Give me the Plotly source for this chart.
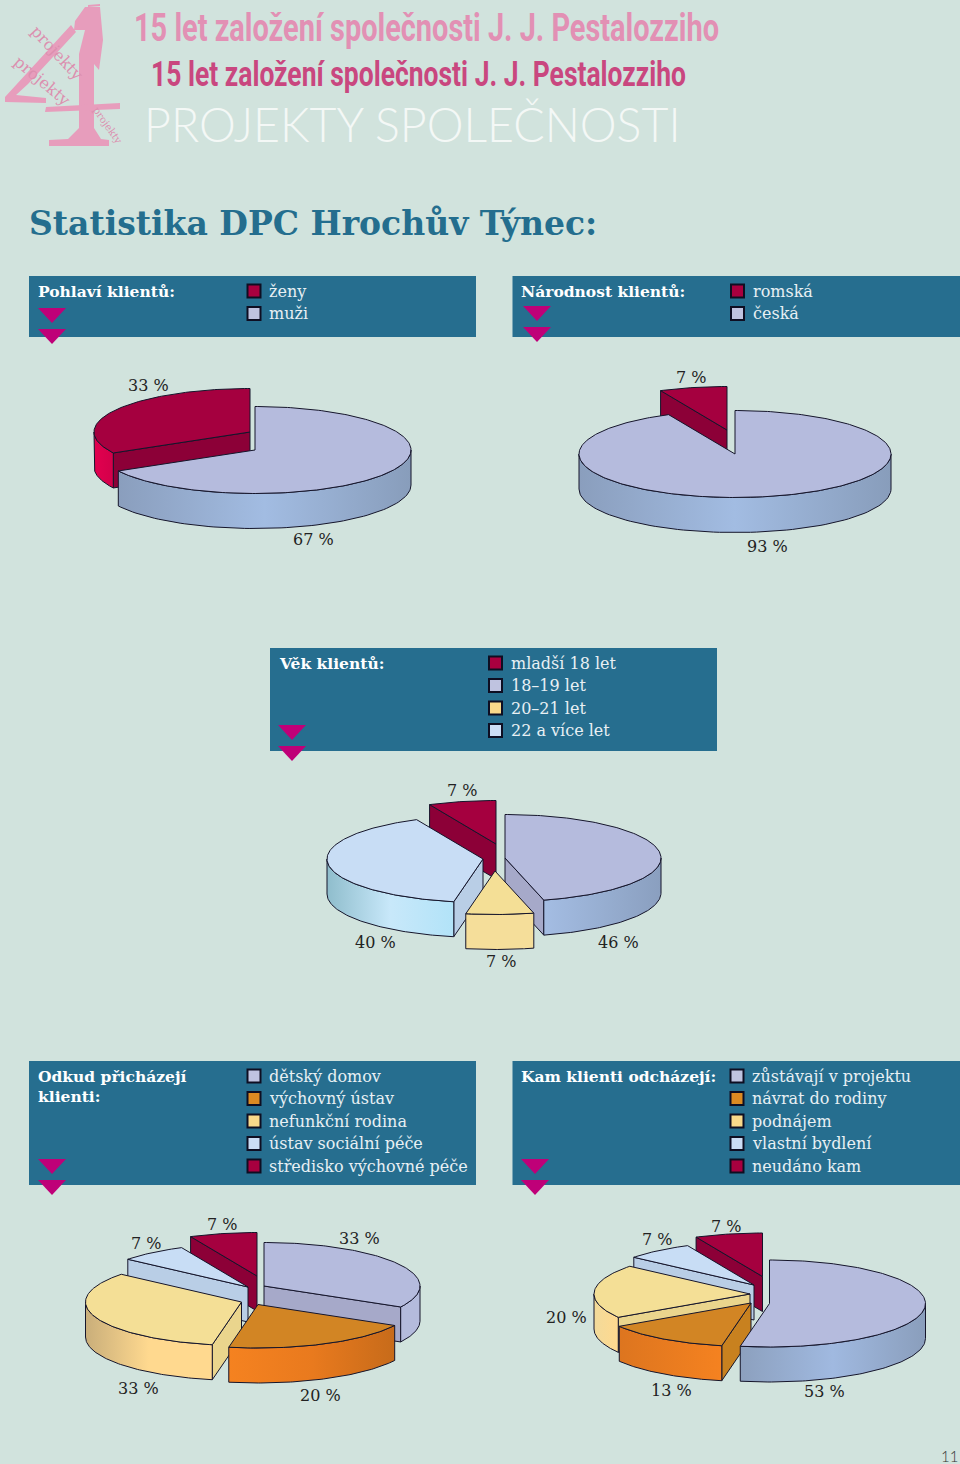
import numpy as np
import plotly.graph_objects as go

# ---------- data ----------
gender_cats = ["ženy", "muži"]
gender_vals = [33, 67]
nation_cats = ["romská", "česká"]
nation_vals = [7, 93]
age_cats = ["mladší 18 let", "18–19 let", "20–21 let", "22 a více let"]
age_vals = [7, 46, 7, 40]
origin_cats = ["dětský domov", "výchovný ústav", "nefunkční rodina", "ústav sociální péče", "středisko výchovné péče"]
origin_vals = [33, 20, 33, 7, 7]
dest_cats = ["zůstávají v projektu", "návrat do rodiny", "podnájem", "vlastní bydlení", "neudáno kam"]
dest_vals = [53, 13, 20, 7, 7]

# ---------- style ----------
BG = "#D1E3DD"
PANEL = "#266E8F"
TRI = "#BF0078"
INK = "#15152B"
TOP = dict(red="#A5003F", purple="#B5BBDD", yellow="#F4DF96", light="#C8DDF5", orange="#D28524")
FACE = dict(red="#8C0037", purple="#A6A9C9", yellow="#EAD58D", light="#B9CEE6", orange="#C8811F")
SW = dict(red="#A8003F", purple="#BFC3E0", yellow="#F9D98A", light="#CBDDF5", orange="#DB8A22")
SERIF = "DejaVu Serif"

fig = go.Figure()
shapes, notes = [], []


def txt(x, y, s, size, color, family=SERIF, anchor="left", bold=False, angle=0, weight=None):
    f = dict(size=size, color=color, family=family)
    if bold:
        f["weight"] = 700
    if weight:
        f["weight"] = weight
    notes.append(dict(x=x, y=y, xref="x", yref="y", text=s, showarrow=False, xanchor=anchor,
                      yanchor="middle", font=f, textangle=angle, borderpad=0, align="left"))


def path(d, color):
    shapes.append(dict(type="path", path=d, fillcolor=color, line=dict(width=0), layer="below"))


def poly(xs, ys, fill, grad=None):
    kw = dict(fillcolor=fill)
    if grad:
        lo, hi, cols = grad
        scale = [[i / (len(cols) - 1), c] for i, c in enumerate(cols)]
        kw = dict(fillgradient=dict(type="horizontal", colorscale=scale, start=lo, stop=hi))
    fig.add_trace(go.Scatter(x=list(xs) + [xs[0]], y=list(ys) + [ys[0]], mode="lines", fill="toself",
                             line=dict(color=INK, width=1), hoverinfo="skip", showlegend=False, **kw))


def draw_slice(a0, a1, cx, cy, key, wall, rx=156, ry=43.5, depth=35):
    """One wedge: a0/a1 in degrees clockwise from 12 o'clock."""
    ang = lambda a: (cx + rx * np.sin(np.radians(a)), cy - ry * np.cos(np.radians(a)))
    # cut faces
    for a, sign in ((a0, -1), (a1, 1)):
        if sign * np.sin(np.radians(a)) > 1e-6:
            x, y = ang(a)
            poly([cx, x, x, cx], [cy, y, y + depth, cy + depth], FACE[key])
    # outer wall
    w0, w1 = max(a0, 90), min(a1, 270)
    if w1 > w0:
        t = np.linspace(w0, w1, 80)
        x, y = ang(t)
        xs = np.r_[x, x[::-1]]
        ys = np.r_[y, y[::-1] + depth]
        poly(xs.tolist(), ys.tolist(), wall[0], (float(x.min()), float(x.max()), wall))
    # top
    t = np.linspace(a0, a1, max(12, int(a1 - a0)))
    x, y = ang(t)
    poly([cx] + x.tolist(), [cy] + y.tolist(), TOP[key])


def pie(values, keys, centers, walls, order):
    edges = np.r_[0, np.cumsum(values)] * 3.6
    edges = edges * 360 / edges[-1]
    for i in order:
        draw_slice(edges[i], edges[i + 1], centers[i][0], centers[i][1], keys[i], walls[i])


def panel(x0, x1, y0, y1, title_lines, cats, keys, sw_x, first_y, tri_x, tri_y):
    shapes.append(dict(type="rect", x0=x0, x1=x1, y0=y0, y1=y1, fillcolor=PANEL, line=dict(width=0), layer="below"))
    for i, line in enumerate(title_lines):
        txt(x0 + 7.5, first_y + 20 * i, line, 15.5, "#FFFFFF", bold=True)
    ys = [first_y + 22.5 * i for i in range(len(cats))]
    fig.add_trace(go.Scatter(x=[sw_x] * len(cats), y=ys, mode="markers", hoverinfo="skip", showlegend=False,
                             marker=dict(symbol="square", size=13, color=[SW[k] for k in keys],
                                         line=dict(color="#0E0E22", width=2))))
    for c, y in zip(cats, ys):
        txt(sw_x + 14, y, c, 16, "#E8F0F4")
    for ty in tri_y:
        shapes.append(dict(type="path", path=f"M{tri_x},{ty} L{tri_x + 28},{ty} L{tri_x + 14},{ty + 15} Z",
                           fillcolor=TRI, line=dict(width=0), layer="above"))


# ---------- header ----------
HEAD = "Roboto"
HEAD_TEXT = "15 let založení společnosti J. J. Pestalozziho"
txt(133, 28, HEAD_TEXT, 38, "#E290B4", family=HEAD, bold=True)
txt(150, 74, HEAD_TEXT, 34.5, "#C9477F", family=HEAD, bold=True)
txt(143, 124, "PROJEKTY SPOLEČNOSTI", 46.5, "#F4F8F6", family="Lato", weight=300)
txt(28, 223, "Statistika DPC Hrochův Týnec:", 33, "#246E8E", bold=True)
txt(949, 1456, "11", 15, "#333333", family="Lato", anchor="center", weight=300)

# ---------- logo ----------
LOGO = "#E79DBC"
LOGO_T = "#DC8FAF"
path("M85,7 L100,7 L103,40 L99,70 L94,64 L94,128 L101,139 L109,140 L109,146 L49,146 L49,140 L68,139 L79,128 L79,54 L85,30 L74,30 L75,21 Z", LOGO)
path("M46,107 L120,103 L120,109 L45,112 Z", LOGO)
path("M71,25 L76,32 L28,84 L16,95 L46,98 L46,103 L5,102 L5,97 Z", LOGO)
path("M88,5 L100,4 L100,6 L88,7 Z", LOGO)
txt(57, 52, "projekty", 16, LOGO_T, anchor="center", angle=47)
txt(42, 80, "projekty", 16, LOGO_T, anchor="center", angle=40)
txt(108, 125, "projekty", 10, LOGO_T, anchor="center", angle=55)

# ---------- panels ----------
panel(29, 476, 276, 337, ["Pohlaví klientů:"], gender_cats, ["red", "purple"], 254, 291, 38, [308, 329])
panel(512.5, 960, 276, 337, ["Národnost klientů:"], nation_cats, ["red", "purple"], 737.5, 291, 523, [306, 327])
panel(270, 717, 648, 751, ["Věk klientů:"], age_cats, ["red", "purple", "yellow", "light"], 495.5, 663, 278, [725, 746])
panel(29, 476, 1061, 1185, ["Odkud přicházejí", "klienti:"], origin_cats, ["purple", "orange", "yellow", "light", "red"], 254, 1076, 38, [1159, 1180])
panel(512.5, 960, 1061, 1185, ["Kam klienti odcházejí:"], dest_cats, ["purple", "orange", "yellow", "light", "red"], 737, 1076, 521, [1159, 1180])

# ---------- pies ----------
RED_W = ["#E2004F", "#D3004A"]
BLUE_W = ["#8A9EBD", "#A2BCE2", "#889DBB"]
pie(gender_vals[::-1], ["purple", "red"], [(255, 450), (250, 432)], [BLUE_W, RED_W], [1, 0])
pie(nation_vals[::-1], ["purple", "red"], [(735, 454), (727, 430)], [BLUE_W, RED_W], [1, 0])
pie([age_vals[1], age_vals[2], age_vals[3], age_vals[0]], ["purple", "yellow", "light", "red"],
    [(505, 858), (495, 871), (483, 859), (496, 844)],
    [["#A4BDE3", "#8A9FBF"], ["#F5DE9A", "#F5DE9A"], ["#8FBDCC", "#C8E8FA", "#B2E3F8"], RED_W], [3, 0, 2, 1])
pie(origin_vals, ["purple", "orange", "yellow", "light", "red"],
    [(264, 1286), (258, 1304.5), (241.5, 1302), (248, 1287), (257, 1276)],
    [["#B4BBDC", "#B4BBDC"], ["#F58220", "#E97A1E", "#C76B1A"], ["#C9AE7A", "#FFD98F", "#FFD98F"],
     ["#B9CEE6", "#B9CEE6"], RED_W], [4, 3, 0, 2, 1])
pie(dest_vals, ["purple", "orange", "yellow", "light", "red"],
    [(769.5, 1303.5), (751, 1303), (750, 1294), (754, 1285), (762.5, 1276.5)],
    [["#8CA0BE", "#A0B9E0", "#8A9EBC"], ["#DD751F", "#F58220"], ["#F2DA9A", "#FFD98F"],
     ["#B9CEE6", "#B9CEE6"], RED_W], [4, 3, 2, 1, 0])

# ---------- value labels ----------
LABEL_POS = [
    (148, 385, gender_vals[0]), (313, 539, gender_vals[1]),
    (691, 377, nation_vals[0]), (767, 546, nation_vals[1]),
    (462, 790, age_vals[0]), (618, 942, age_vals[1]), (501, 961, age_vals[2]), (375, 942, age_vals[3]),
    (359, 1238, origin_vals[0]), (320, 1395, origin_vals[1]), (138, 1388, origin_vals[2]),
    (146, 1243, origin_vals[3]), (222, 1224, origin_vals[4]),
    (824, 1391, dest_vals[0]), (671, 1390, dest_vals[1]), (566, 1317, dest_vals[2]),
    (657, 1239, dest_vals[3]), (726, 1226, dest_vals[4]),
]
for x, y, v in LABEL_POS:
    txt(x, y, f"{v} %", 16, "#222222", anchor="center")

fig.update_layout(
    width=960, height=1464, autosize=False, margin=dict(l=0, r=0, t=0, b=0),
    paper_bgcolor=BG, plot_bgcolor=BG, showlegend=False, shapes=shapes, annotations=notes,
    xaxis=dict(range=[0, 960], visible=False, fixedrange=True),
    yaxis=dict(range=[1464, 0], visible=False, fixedrange=True),
)

POST = """
document.body.style.margin='0';document.body.style.background='%s';document.body.style.overflow='hidden';
function fitHead(){
  var w=[585,535],k=0;
  document.querySelectorAll('text.annotation-text').forEach(function(t){
    if(t.textContent.indexOf('15 let')===0 && k<2){
      t.setAttribute('textLength',w[k]);t.setAttribute('lengthAdjust','spacingAndGlyphs');k++;
    }
  });
}
fitHead();setTimeout(fitHead,30);setTimeout(fitHead,200);
""" % BG
fig.write_html("out.html", config=dict(displayModeBar=False), post_script=POST)
